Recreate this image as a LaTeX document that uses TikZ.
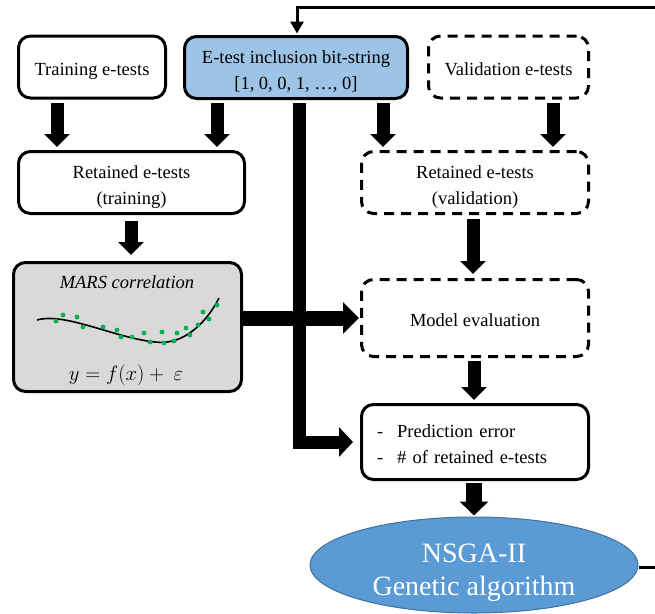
\documentclass[tikz,border=0pt]{standalone}
\usepackage{fontspec}
\setmainfont{Liberation Serif}
\usetikzlibrary{arrows.meta,shapes.geometric}
\definecolor{bitblue}{HTML}{9DC3E6}
\definecolor{gablue}{HTML}{5B9BD5}
\definecolor{gaedge}{HTML}{41719C}
\definecolor{marsgray}{HTML}{D9D9D9}
\definecolor{dotgreen}{HTML}{00B050}
% line strut with the ascent and descent of the text font
\newcommand{\ls}{\rule[-4pt]{0pt}{25pt}}

\begin{document}
\begin{tikzpicture}[x=1pt,y=-1pt,
  box/.style={draw, line width=3pt, rounded corners=12pt, align=center,
    inner sep=0pt, font=\fontsize{18.5}{23}\selectfont},
  dbox/.style={box, dash pattern=on 10pt off 7pt},
  fat/.style={line width=13pt, -{Triangle[width=25pt,length=13pt]}},
  wide/.style={line width=15pt, -{Triangle[width=31pt,length=16pt]}},
  feed/.style={line width=3pt},
  dot/.style={fill=dotgreen, draw=none}
]
\useasboundingbox (0,0) rectangle (655,613);

% top row
\node[box, minimum width=147pt, minimum height=62pt] (train) at (92,67) {\ls Training e-tests};
\node[box, fill=bitblue, minimum width=223pt, minimum height=62pt] (ebit) at (296,67.5)
  {\ls E-test inclusion bit-string\\\ls{[1, 0, 0, 1, \dots, 0]}};
\node[dbox, minimum width=160pt, minimum height=62pt] (valid) at (508.5,67) {\ls Validation e-tests};

% retained subsets
\node[box, minimum width=226pt, minimum height=62pt, font=\fontsize{18.5}{24}\selectfont] (rtrain)
  at (131.5,182.5) {\ls Retained e-tests\\\ls(training)};
\node[dbox, minimum width=227pt, minimum height=62pt, font=\fontsize{18.5}{24}\selectfont] (rvalid)
  at (475,182.5) {\ls Retained e-tests\\\ls(validation)};

% MARS model
\node[box, fill=marsgray, minimum width=228pt, minimum height=129pt] (mars) at (127.5,327) {};
\node[font=\fontsize{18.5}{23}\selectfont\itshape] (marst) at (127,282) {MARS correlation};
\node[font=\fontsize{19.5}{24}\selectfont] (marse) at (126,375) {$y = f(x) +\ \varepsilon$};
\draw[line width=1.6pt] (37,320) .. controls (65,312) and (115,338) .. (155,342)
  .. controls (185,346) and (208,320) .. (219,298);
\foreach \px/\py in {56/321, 63/315, 77/317, 83/327, 103/327, 117/330, 121/337, 132/337,
  144/333, 150/342, 162/332, 164/343, 174/341, 177/333, 186/328, 190/335, 198/325,
  203/312, 209/319, 217/305}
  \fill[dot] (\px,\py) circle (2.4pt);

% evaluation
\node[dbox, minimum width=227pt, minimum height=77pt] (meval) at (475,318) {\ls Model evaluation};
\node[box, minimum width=227pt, minimum height=75pt, text width=196pt, inner xsep=15.5pt,
  align=left] (pred) at (475,442)
  {\ls-\hspace{14pt}Prediction error\\\ls-\hspace{14pt}\# of retained e-tests};

% genetic algorithm
\node[ellipse, fill=gablue, draw=gaedge, line width=1pt, minimum width=328pt, minimum height=96pt,
  inner sep=0pt] (ga) at (474,565) {};
\node[align=center, text=white, font=\fontsize{28}{33}\selectfont] (gatext) at (474,572.5)
  {NSGA-II\\Genetic algorithm};

% block arrows
\draw[fat, shorten <=3pt, shorten >=3pt] (train.south -| 57,0) -- (rtrain.north -| 57,0);
\draw[fat, shorten <=3pt, shorten >=3pt] (ebit.south -| 217,0) -- (rtrain.north -| 217,0);
\draw[fat, shorten <=3pt, shorten >=3pt] (ebit.south -| 383,0) -- (rvalid.north -| 383,0);
\draw[fat, shorten <=3pt, shorten >=3pt] (valid.south -| 553,0) -- (rvalid.north -| 553,0);
\draw[fat, shorten <=6pt, shorten >=6pt] (rtrain.south -| 131,0) -- (mars.north -| 131,0);
\draw[fat, shorten <=4pt, shorten >=4pt] (rvalid.south -| 473,0) -- (meval.north -| 473,0);
\draw[fat, shorten <=3pt, shorten >=3pt] (meval.south -| 474,0) -- (pred.north -| 474,0);
\draw[line width=16pt, -{Triangle[width=28pt,length=14pt]}, shorten <=2pt, shorten >=1pt]
  (pred.south -| 474,0) -- (ga.north -| 474,0);

% bit-string feeds the error count directly
\draw[line width=13pt, -{Triangle[width=29pt,length=14pt]}, shorten <=3pt, shorten >=7pt]
  (ebit.south -| 299,0) |- (pred.west);
% fitted model goes to evaluation
\draw[wide, shorten >=1pt] (mars.east |- meval.west) -- (meval.west);

% loop back from the genetic algorithm
\coordinate (loopin) at (655,7);
\coordinate (loopout) at (655,567);
\draw[feed, -{Triangle[width=13pt,length=12pt]}, shorten >=1.5pt] (loopin) -| (ebit.north -| 297,0);
\draw[feed] (ga.east |- loopout) -- (loopout);
\end{tikzpicture}
\end{document}
